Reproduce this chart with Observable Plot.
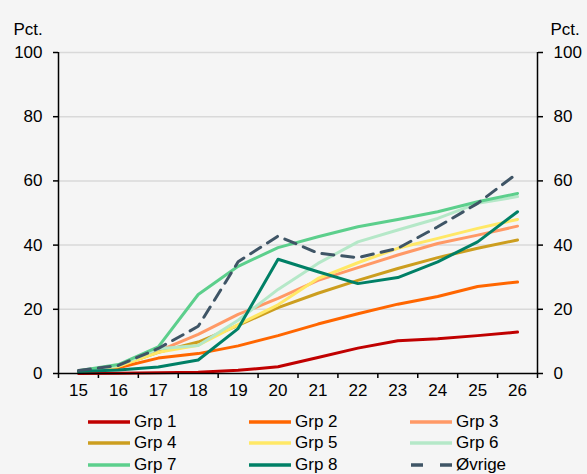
<!DOCTYPE html>
<html>
<head>
<meta charset="utf-8">
<script src="https://cdn.jsdelivr.net/npm/d3@7"></script>
<script src="https://cdn.jsdelivr.net/npm/@observablehq/plot@0.6"></script>
<style>
  html, body { margin: 0; padding: 0; background: #f5f5f5; }
  body { width: 587px; height: 474px; overflow: hidden; font-family: "Liberation Sans", Arial, sans-serif; }
  #legend { position: relative; height: 64px; }
  .item { position: absolute; display: flex; align-items: center; font-size: 17px; color: #000; height: 21px; }
  .item svg { margin-right: 4px; }
</style>
</head>
<body>
<div id="chart"></div>
<div id="legend"></div>
<script>
const years = [15, 16, 17, 18, 19, 20, 21, 22, 23, 24, 25, 26];
const seriesNames = ["Grp 1", "Grp 2", "Grp 3", "Grp 4", "Grp 5", "Grp 6", "Grp 7", "Grp 8", "Øvrige"];
const grp1 = [0.0, 0.1, 0.2, 0.4, 1.0, 2.1, 5.0, 7.9, 10.2, 10.8, 11.8, 12.9];
const grp2 = [0.6, 1.8, 4.8, 6.2, 8.6, 11.8, 15.4, 18.6, 21.6, 24.0, 27.1, 28.5];
const grp3 = [0.8, 2.2, 7.0, 12.2, 18.4, 23.4, 29.0, 33.0, 36.9, 40.5, 43.1, 45.9];
const grp4 = [0.8, 2.4, 6.6, 9.8, 15.0, 20.5, 25.0, 29.0, 32.7, 36.1, 39.0, 41.6];
const grp5 = [0.8, 2.2, 6.6, 8.8, 15.2, 21.4, 29.6, 34.5, 39.0, 42.1, 45.2, 48.0];
const grp6 = [0.8, 2.5, 7.7, 8.7, 16.6, 26.2, 34.3, 41.0, 44.7, 48.3, 53.0, 55.1];
const grp7 = [0.9, 2.8, 8.3, 24.6, 33.4, 39.2, 42.6, 45.7, 48.0, 50.4, 53.5, 56.1];
const grp8 = [0.6, 1.1, 2.0, 4.2, 14.0, 35.6, 31.7, 28.0, 29.9, 34.8, 41.0, 50.4];
const ovrige = [0.9, 2.5, 7.8, 14.7, 34.8, 42.8, 37.5, 36.1, 39.0, 45.7, 53.0, 62.4];
const yTicks = [0, 20, 40, 60, 80, 100];

const seriesValues = [grp1, grp2, grp3, grp4, grp5, grp6, grp7, grp8, ovrige];
const colors = ["#c00000", "#ff6600", "#ff9966", "#cc9e1f", "#ffe866", "#b5e8c8", "#5ccf8c", "#008066", "#3f5566"];
const dashes = [null, null, null, null, null, null, null, null, "12,8"];

const lineMarks = seriesValues.map((vals, i) => Plot.line(
  years.map((x, j) => ({x, y: vals[j]})),
  {x: "x", y: "y", stroke: colors[i], strokeWidth: 3, strokeDasharray: dashes[i] || undefined}
));

const chart = Plot.plot({
  width: 587,
  height: 410,
  marginLeft: 58,
  marginRight: 50,
  marginTop: 52,
  marginBottom: 37,
  style: {background: "#f5f5f5", fontFamily: "'Liberation Sans', Arial, sans-serif", fontSize: "17px", color: "#000"},
  x: {domain: [14.5, 26.5]},
  y: {domain: [0, 100]},
  marks: [
    Plot.gridY(yTicks.filter(d => d > 0), {stroke: "#d9d9d9", strokeOpacity: 1, strokeWidth: 1.5}),
    Plot.axisY(yTicks, {anchor: "left", tickSize: 5, tickPadding: 11, label: null, stroke: "#000", strokeWidth: 1.5}),
    Plot.axisY(yTicks, {anchor: "right", tickSize: 5, tickPadding: 11, label: null, stroke: "#000", strokeWidth: 1.5}),
    Plot.axisX(d3.range(14.5, 27, 1), {tickSize: 5, tickFormat: () => "", label: null, stroke: "#000", strokeWidth: 1.5}),
    Plot.axisX(years, {tickSize: 0, tickPadding: 10, label: null}),
    Plot.ruleX([14.5, 26.5], {y1: 0, y2: 100, stroke: "#000", strokeWidth: 1.5}),
    ...lineMarks,
    Plot.ruleY([0], {stroke: "#000", strokeWidth: 1.5}),
    Plot.text(["Pct."], {frameAnchor: "top-left", dx: -45, dy: -30, textAnchor: "start", fontSize: 17}),
    Plot.text(["Pct."], {frameAnchor: "top-right", dx: 13, dy: -30, textAnchor: "start", fontSize: 17})
  ]
});
document.getElementById("chart").appendChild(chart);

const legend = document.getElementById("legend");
const colX = [88, 249, 410];
seriesNames.forEach((name, i) => {
  const col = i % 3, row = Math.floor(i / 3);
  const div = document.createElement("div");
  div.className = "item";
  div.style.left = colX[col] + "px";
  div.style.top = (1 + row * 21.5) + "px";
  const dash = dashes[i] ? `stroke-dasharray="12,17"` : "";
  div.innerHTML = `<svg width="42" height="8"><line x1="${dashes[i] ? 1 : 0}" y1="4" x2="42" y2="4" stroke="${colors[i]}" stroke-width="3.5" ${dash}/></svg><span>${name}</span>`;
  legend.appendChild(div);
});
</script>
</body>
</html>
